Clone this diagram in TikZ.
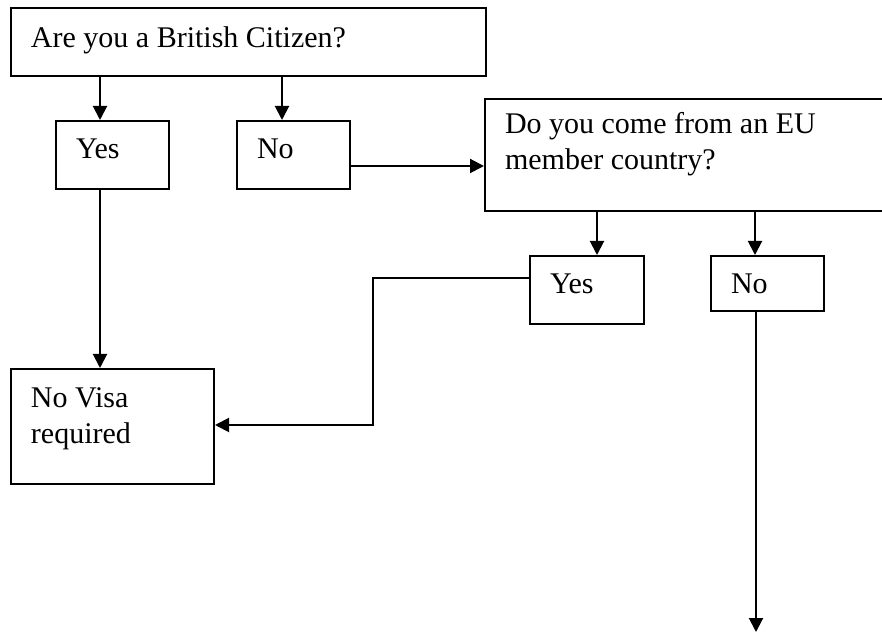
\documentclass[tikz,border=0pt]{standalone}
\usepackage{fontspec}
\setmainfont{Liberation Serif}
\usetikzlibrary{calc,arrows.meta}

\tikzset{
	qbox/.style={draw, anchor=north west, align=flush left, inner xsep=10pt, inner ysep=0pt, text height=19pt},
	arr/.style={-{Triangle[length=7pt,width=7pt]}}
}

\begin{document}
\begin{tikzpicture}[x=1pt, y=-1pt, line width=1pt, font=\fontsize{15pt}{18pt}\selectfont]
	\useasboundingbox (0,0) rectangle (441,317.5);
	\node[qbox, text width=217.5pt, text height=20pt, text depth=14pt] (citizen) at (5,3.5) {Are you a British Citizen?};
	\node[qbox, text width=36.5pt, text depth=15pt] (yesA) at (27.5,60) {Yes};
	\node[qbox, text width=36.5pt, text depth=15pt] (noA) at (118,60) {No};
	\node[qbox, text width=183pt, text height=17.5pt, text depth=38.5pt] (eu) at (242,49) {Do you come from an EU\\member country?};
	\node[qbox, text width=37pt, text depth=15pt] (yesB) at (264.5,127.5) {Yes};
	\node[qbox, text width=36.5pt, text depth=8.5pt] (noB) at (355,127.5) {No};
	\node[qbox, text width=81.5pt, text height=19.5pt, text depth=38pt] (visa) at (5,184) {No Visa\\required};
	\coordinate (noend) at (378,316);
	\draw[arr] (citizen.south west) ++(45,0) -- ($(yesA.north west)+(22.5,0)$);
	\draw[arr] (citizen.south west) ++(136,0) -- ($(noA.north west)+(23,0)$);
	\draw[arr] ($(noA.north east)+(0,23)$) -- ($(eu.north west)+(0,34)$);
	\draw[arr] (eu.south west) ++(56.5,0) -- ($(yesB.north west)+(34,0)$);
	\draw[arr] (eu.south west) ++(135.5,0) -- ($(noB.north west)+(22.5,0)$);
	\draw[arr] (yesA.south west) ++(22.5,0) -- ($(visa.north west)+(45,0)$);
	\draw[arr] ($(yesB.north west)+(0,11.5)$) -- ++(-78,0) |- ($(visa.north east)+(0,28.5)$);
	\draw[arr] (noB.south -| noend) -- (noend);
\end{tikzpicture}
\end{document}
